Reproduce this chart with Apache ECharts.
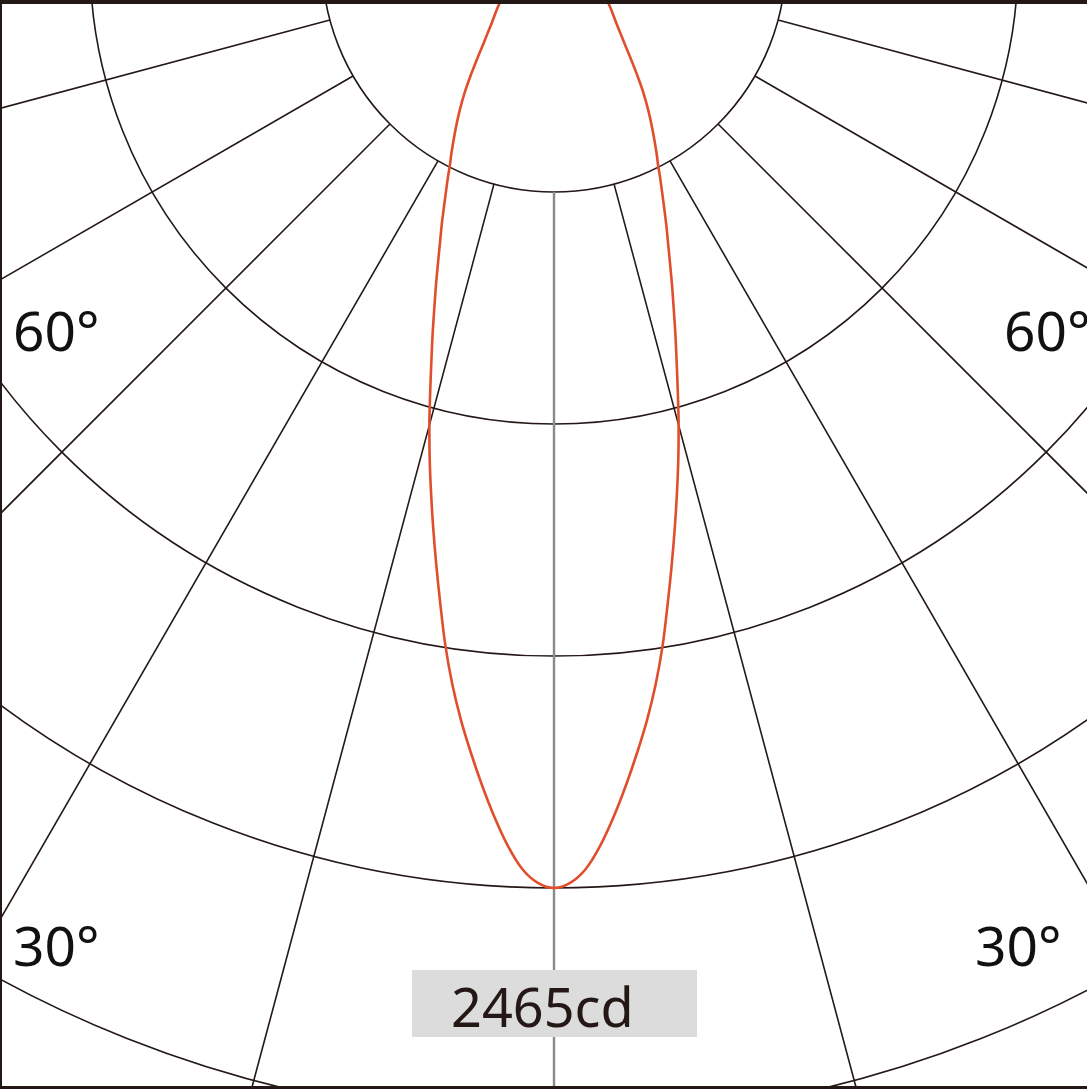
<!DOCTYPE html>
<html>
<head>
<meta charset="utf-8">
<style>
  html, body { margin: 0; padding: 0; background: #fff; }
  #chart { width: 1087px; height: 1089px; }
</style>
<script src="https://cdn.jsdelivr.net/npm/echarts@6/dist/echarts.min.js"></script>
</head>
<body>
<div id="chart"></div>
<script>
// ---- data ----
// beam angle (degrees from nadir) and luminous intensity (cd), symmetric beam
const beamAngles = [0, 1, 2, 3, 4, 5, 6, 7, 8, 9, 10, 11, 12, 13, 14, 15, 16, 17, 18, 19, 20, 21, 22, 23, 24, 25, 26, 27, 28, 30, 32, 34, 36, 38, 40, 42, 45, 50, 55, 60, 70, 80, 90];
const intensity  = [2465, 2452, 2416, 2355, 2280, 2199, 2116, 2032, 1942, 1844, 1738, 1638, 1543, 1452, 1365, 1279, 1193, 1114, 1043, 976, 916, 859, 808, 763, 719, 679, 643, 608, 580, 525, 474, 424, 374, 330, 293, 265, 232, 195, 162, 130, 80, 35, 0];
const spokeAngles = [15, 30, 45, 60, 75, 90];
const ringValue = 616.25;          // cd per ring (peak 2465 cd = 4 rings)
const ringCount = 6;
const peakLabel = '2465cd';
const angleLabels = ['60°', '30°'];

// ---- build series ----
const curve = [];
for (let i = beamAngles.length - 1; i >= 0; i--) curve.push([intensity[i], -beamAngles[i]]);
for (let i = 1; i < beamAngles.length; i++) curve.push([intensity[i], beamAngles[i]]);

const rMax = ringValue * ringCount;
const series = [];
spokeAngles.forEach(a => {
  [a, -a].forEach(ang => {
    series.push({
      type: 'line', coordinateSystem: 'polar', symbol: 'none', silent: true, z: 2,
      lineStyle: { color: '#231815', width: 1.6 },
      data: [[ringValue, ang], [rMax, ang]]
    });
  });
});
series.push({
  type: 'line', coordinateSystem: 'polar', symbol: 'none', silent: true, z: 2,
  lineStyle: { color: '#8a8a8a', width: 2.4 },
  data: [[ringValue, 0], [rMax, 0]]
});
series.push({
  type: 'line', coordinateSystem: 'polar', symbol: 'none', silent: true, z: 5,
  smooth: 0.35,
  lineStyle: { color: '#e04e2c', width: 2.6 },
  data: curve
});

const chart = echarts.init(document.getElementById('chart'), null, { renderer: 'canvas' });
const font = '"Noto Sans", sans-serif';
chart.setOption({
  backgroundColor: '#ffffff',
  animation: false,
  polar: { center: [554, -40], radius: 232 * ringCount },
  angleAxis: {
    type: 'value', min: -180, max: 180, startAngle: 90, clockwise: true,
    axisLine: { show: false }, axisTick: { show: false }, axisLabel: { show: false },
    splitLine: { show: false }
  },
  radiusAxis: {
    type: 'value', min: 0, max: rMax, interval: ringValue,
    axisLine: { show: false }, axisTick: { show: false }, axisLabel: { show: false },
    splitLine: { show: true, lineStyle: { color: '#231815', width: 1.6 } }
  },
  series: series,
  graphic: [
    { type: 'rect', z: 100, shape: { x: 412, y: 970, width: 285, height: 67 }, style: { fill: '#dcdcdc' } },
    { type: 'text', z: 101, x: 451, y: 1012, style: { text: peakLabel, font: '54px ' + font, fill: '#231815', textVerticalAlign: 'middle' } },
    { type: 'text', z: 101, x: 13, y: 335, style: { text: angleLabels[0], font: '55px ' + font, fill: '#111', textVerticalAlign: 'middle' } },
    { type: 'text', z: 101, x: 13, y: 950, style: { text: angleLabels[1], font: '55px ' + font, fill: '#111', textVerticalAlign: 'middle' } },
    { type: 'text', z: 101, x: 1004, y: 335, style: { text: angleLabels[0], font: '55px ' + font, fill: '#111', textVerticalAlign: 'middle' } },
    { type: 'text', z: 101, x: 975, y: 950, style: { text: angleLabels[1], font: '55px ' + font, fill: '#111', textVerticalAlign: 'middle' } },
    { type: 'rect', z: 110, shape: { x: 0, y: 0, width: 1087, height: 4 }, style: { fill: '#231815' } },
    { type: 'rect', z: 110, shape: { x: 0, y: 0, width: 2, height: 1089 }, style: { fill: '#231815' } },
    { type: 'rect', z: 110, shape: { x: 0, y: 1086, width: 1087, height: 3 }, style: { fill: '#231815' } }
  ]
});
</script>
</body>
</html>
